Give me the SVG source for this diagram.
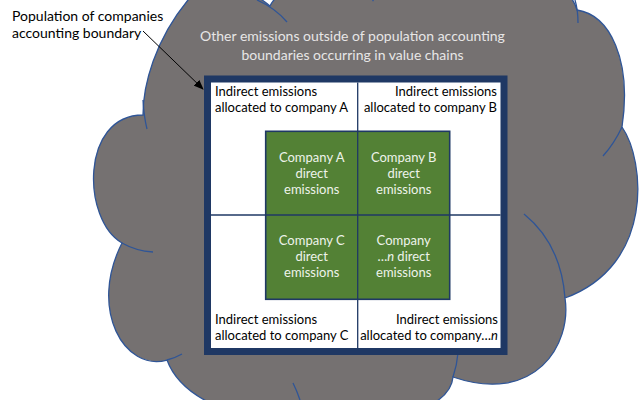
<svg xmlns="http://www.w3.org/2000/svg" width="640" height="400" viewBox="0 0 640 400">
  <defs>
    <style>
      .lbl { font-family: Lato, "Open Sans", "Liberation Sans", sans-serif; }
      .blk { fill: #000000; font-size: 13px; }
      .grn { fill: #eef3ea; font-size: 13px; text-anchor: middle; }
      .cld { fill: #e7e6e6; font-size: 14px; text-anchor: middle; }
      .arc { fill: none; stroke: #2f5597; stroke-width: 1.3; }
      .grid { stroke: #1f3864; stroke-width: 1.3; fill: none; }
    </style>
    <marker id="ah" markerWidth="10" markerHeight="8" refX="9" refY="4" orient="auto" markerUnits="userSpaceOnUse">
      <path d="M0,0 L10,4 L0,8 Z" fill="#000000"/>
    </marker>
  </defs>
  <rect width="640" height="400" fill="#ffffff"/>

  <g id="cloud">
    <path d="M143,115 C143,85 155,40 188,0 C205,-25 245,-15 270,6 C285,-25 355,-25 373,0.5 C400,-40 560,-50 577,10 C610,15 632,60 622,127 C645,160 655,265 565,298 C572,345 535,405 453,377 C448,440 200,450 167,360 C125,372 88,310 122,243 C82,220 80,115 143,115 Z" fill="#757171" stroke="#2f5597" stroke-width="1.3"/>
    <path class="arc" d="M143,100 Q144,117 147,129"/>
    <path class="arc" d="M257,0 Q275,8 287,22"/>
    <path class="arc" d="M575,0 Q578,10 578,23"/>
    <path class="arc" d="M622,127 Q614,144 603,156"/>
    <path class="arc" d="M524,214 Q561,244 565,298"/>
    <path class="arc" d="M453,377 Q457,365 458,353"/>
    <path class="arc" d="M293,383 Q297,391 300,400"/>
    <path class="arc" d="M167,360 Q175,358 182,354"/>
    <path class="arc" d="M122,243 Q136,251 153,252"/>
    <text class="lbl cld" x="352.5" y="41">Other emissions outside of population accounting</text>
    <text class="lbl cld" x="352.5" y="59.5">boundaries occurring in value chains</text>
  </g>

  <g id="boundary">
    <rect x="207.5" y="79" width="296.5" height="272.5" fill="#ffffff" stroke="#1f3864" stroke-width="7"/>
  </g>

  <g id="quadrant-a">
    <text class="lbl blk" x="215" y="96">Indirect emissions</text>
    <text class="lbl blk" x="215" y="112">allocated to company A</text>
  </g>
  <g id="quadrant-b">
    <text class="lbl blk" x="497" y="96" text-anchor="end">Indirect emissions</text>
    <text class="lbl blk" x="497" y="112" text-anchor="end">allocated to company B</text>
  </g>
  <g id="quadrant-c">
    <text class="lbl blk" x="215" y="324">Indirect emissions</text>
    <text class="lbl blk" x="215" y="340">allocated to company C</text>
  </g>
  <g id="quadrant-n">
    <text class="lbl blk" x="498" y="323.5" text-anchor="end">Indirect emissions</text>
    <text class="lbl blk" x="498" y="339.5" text-anchor="end">allocated to company…<tspan font-style="italic">n</tspan></text>
  </g>

  <g id="direct-emissions">
    <rect x="265.7" y="131.3" width="184" height="168" fill="#538135" stroke="#1f3864" stroke-width="1.6"/>
  </g>

  <g id="connectors">
    <line class="grid" x1="357.7" y1="82.5" x2="357.7" y2="348"/>
    <line class="grid" x1="211" y1="215" x2="500.5" y2="215"/>
    <line x1="143" y1="31" x2="203" y2="89" stroke="#000000" stroke-width="1" marker-end="url(#ah)"/>
  </g>

  <g id="company-a">
    <text class="lbl grn" x="311.7" y="161.5">Company A</text>
    <text class="lbl grn" x="311.7" y="177.5">direct</text>
    <text class="lbl grn" x="311.7" y="193.5">emissions</text>
  </g>
  <g id="company-b">
    <text class="lbl grn" x="403.7" y="161.5">Company B</text>
    <text class="lbl grn" x="403.7" y="177.5">direct</text>
    <text class="lbl grn" x="403.7" y="193.5">emissions</text>
  </g>
  <g id="company-c">
    <text class="lbl grn" x="311.7" y="244.5">Company C</text>
    <text class="lbl grn" x="311.7" y="260.5">direct</text>
    <text class="lbl grn" x="311.7" y="276.5">emissions</text>
  </g>
  <g id="company-n">
    <text class="lbl grn" x="403.7" y="244.5">Company</text>
    <text class="lbl grn" x="403.7" y="260.5">…<tspan font-style="italic">n</tspan> direct</text>
    <text class="lbl grn" x="403.7" y="276.5">emissions</text>
  </g>

  <g id="population-label">
    <text class="lbl" x="12" y="20.5" font-size="14" fill="#000000">Population of companies</text>
    <text class="lbl" x="12" y="38" font-size="14" fill="#000000">accounting boundary</text>
  </g>
</svg>
